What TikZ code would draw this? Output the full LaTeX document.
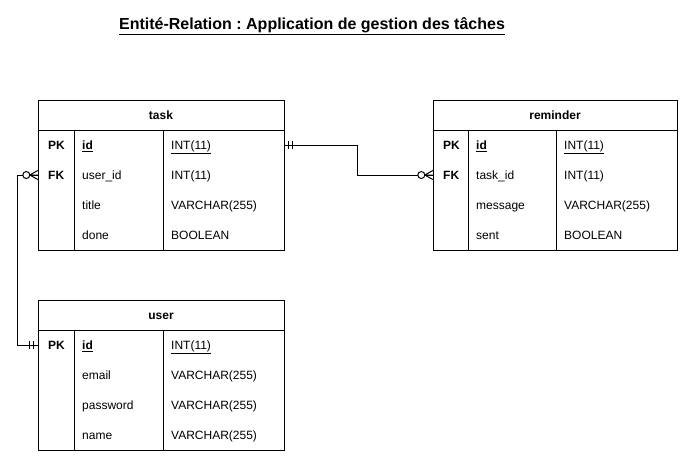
\documentclass[tikz,border=0pt]{standalone}
\usepackage{fontspec}
\setmainfont{Liberation Sans}
\usetikzlibrary{positioning, calc}
\frenchspacing

\tikzset{
  tbl/.style={draw, line width=1pt},
  hdr/.style={font=\fontsize{12}{14}\selectfont\bfseries, anchor=base, inner sep=0pt},
  cell/.style={font=\fontsize{12}{14}\selectfont, anchor=base west, inner sep=0pt},
  kcell/.style={cell, font=\fontsize{12}{14}\selectfont\bfseries},
  row/.style={minimum width=246pt, minimum height=30pt, inner sep=0pt},
  rel/.style={line width=1pt},
  zeromany/.pic={
    \draw[line width=1pt, fill=white] (-11.5,0) circle[radius=3.5];
    \draw[line width=1pt] (-8,0) -- (0,-4.5) (-8,0) -- (0,0) (-8,0) -- (0,4.5);
  },
  mandone/.pic={
    \draw[line width=1pt] (-8,-4) -- (-8,4) (-4,-4) -- (-4,4);
  },
}

\begin{document}
\begin{tikzpicture}[x=1pt, y=-1pt]

\useasboundingbox (0,0) rectangle (687,461);
\fill[white] (0,0) rectangle (687,461);

% Title
\node[font=\fontsize{16}{19}\selectfont\bfseries, anchor=base, inner sep=0pt] (title) at (312,29)
  {\underline{Entité-Relation : Application de gestion des tâches}};

% ========================================
% task
% ========================================
\draw[tbl] (38,100) rectangle (284,250);
\draw[tbl] (38,130) -- (284,130);
\draw[tbl] (74,130) -- (74,250);
\draw[tbl] (163,130) -- (163,250);
\node[hdr] (task-h) at (161,119.3) {task};
\foreach \r/\y in {1/145, 2/175, 3/205, 4/235}
  \node[row] (task-r\r) at (161,\y) {};

\node[kcell] at (48,149.3) {PK};
\node[cell] at (82,149.3) {\textbf{\underline{id}}};
\node[cell] at (171,149.3) {\underline{INT(11)}};
\node[kcell] at (48,179.3) {FK};
\node[cell] at (82,179.3) {user\_id};
\node[cell] at (171,179.3) {INT(11)};
\node[cell] at (82,209.3) {title};
\node[cell] at (171,209.3) {VARCHAR(255)};
\node[cell] at (82,239.3) {done};
\node[cell] at (171,239.3) {BOOLEAN};

% ========================================
% reminder
% ========================================
\draw[tbl] (433,100) rectangle (677,250);
\draw[tbl] (433,130) -- (677,130);
\draw[tbl] (468,130) -- (468,250);
\draw[tbl] (556,130) -- (556,250);
\node[hdr] (reminder-h) at (555,119.3) {reminder};
\foreach \r/\y in {1/145, 2/175, 3/205, 4/235}
  \node[row, minimum width=244pt] (reminder-r\r) at (555,\y) {};

\node[kcell] at (443,149.3) {PK};
\node[cell] at (476,149.3) {\textbf{\underline{id}}};
\node[cell] at (564,149.3) {\underline{INT(11)}};
\node[kcell] at (443,179.3) {FK};
\node[cell] at (476,179.3) {task\_id};
\node[cell] at (564,179.3) {INT(11)};
\node[cell] at (476,209.3) {message};
\node[cell] at (564,209.3) {VARCHAR(255)};
\node[cell] at (476,239.3) {sent};
\node[cell] at (564,239.3) {BOOLEAN};

% ========================================
% user
% ========================================
\draw[tbl] (38,300) rectangle (284,450);
\draw[tbl] (38,330) -- (284,330);
\draw[tbl] (74,330) -- (74,450);
\draw[tbl] (163,330) -- (163,450);
\node[hdr] (user-h) at (161,319.3) {user};
\foreach \r/\y in {1/345, 2/375, 3/405, 4/435}
  \node[row] (user-r\r) at (161,\y) {};

\node[kcell] at (48,349.3) {PK};
\node[cell] at (82,349.3) {\textbf{\underline{id}}};
\node[cell] at (171,349.3) {\underline{INT(11)}};
\node[cell] at (82,379.3) {email};
\node[cell] at (171,379.3) {VARCHAR(255)};
\node[cell] at (82,409.3) {password};
\node[cell] at (171,409.3) {VARCHAR(255)};
\node[cell] at (82,439.3) {name};
\node[cell] at (171,439.3) {VARCHAR(255)};

% Relations
\draw[rel] (task-r1.east) -- ++(73,0) |- (reminder-r2.west);
\pic[rotate=180] at (task-r1.east) {mandone};
\pic at (reminder-r2.west) {zeromany};

\draw[rel] (task-r2.west) -- ++(-20,0) |- (user-r1.west);
\pic at (task-r2.west) {zeromany};
\pic at (user-r1.west) {mandone};

\end{tikzpicture}
\end{document}
